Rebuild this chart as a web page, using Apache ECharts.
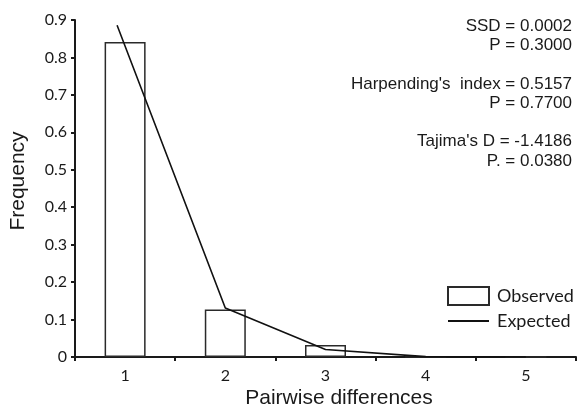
<!DOCTYPE html>
<html>
<head>
<meta charset="utf-8">
<script src="https://cdn.jsdelivr.net/npm/echarts@6/dist/echarts.min.js"></script>
<style>html,body{margin:0;padding:0;background:#fff}#c{width:577px;height:407px}</style>
</head>
<body>
<div id="c"></div>
<script>
// ---- data ----
const categories = ['1', '2', '3', '4', '5'];
const observed = [0.841, 0.127, 0.032, 0, 0];
const expectedX = [0.92, 2, 3, 4, 5];
const expectedY = [0.886, 0.131, 0.02, 0.001, 0];
const yTicks = [0, 0.9, 0.1];
const statLines = [
  'SSD = 0.0002', 'P = 0.3000', '',
  "Harpending's  index = 0.5157", 'P = 0.7700', '',
  "Tajima's D = -1.4186", 'P. = 0.0380'
];
const xTitle = 'Pairwise differences';
const yTitle = 'Frequency';
const legendNames = ['Observed', 'Expected'];

const chart = echarts.init(document.getElementById('c'), null, {renderer: 'canvas'});
const ink = '#1a1a1a';
const numFont = 'Lato';
const option = {
  animation: false,
  backgroundColor: '#fff',
  grid: {left: 75, right: 1, top: 20, bottom: 50, containLabel: false},
  legend: {
    orient: 'vertical', left: 447, top: 286, padding: 0,
    itemWidth: 41, itemHeight: 18, itemGap: 6,
    textStyle: {fontFamily: numFont, fontSize: 18, color: ink, padding: [0, 0, 0, 3]},
    data: [
      {name: legendNames[0], icon: 'rect'},
      {name: legendNames[1], itemStyle: {opacity: 0}}
    ]
  },
  xAxis: [{
    type: 'category', data: categories, boundaryGap: true,
    axisLine: {lineStyle: {color: ink, width: 2}},
    axisTick: {show: true, length: 4, inside: false, lineStyle: {color: ink, width: 2}},
    axisLabel: {fontFamily: numFont, fontSize: 16, color: ink, margin: 11},
    splitLine: {show: false}
  }, {
    type: 'value', min: 0.5, max: 5.5, show: false, splitLine: {show: false}
  }],
  yAxis: {
    type: 'value', min: yTicks[0], max: yTicks[1], interval: yTicks[2],
    axisLine: {show: true, lineStyle: {color: ink, width: 2}},
    axisTick: {show: true, length: 4, lineStyle: {color: ink, width: 2}},
    axisLabel: {fontFamily: numFont, fontSize: 16, color: ink, margin: 8,
      formatter: v => (Math.round(v * 10) / 10).toString()},
    splitLine: {show: false}
  },
  series: [{
    name: legendNames[0], type: 'bar', data: observed, barWidth: 41,
    itemStyle: {color: '#fff', borderColor: '#2a2a2a', borderWidth: 1.5},
    z: 2
  }, {
    name: legendNames[1], type: 'line', xAxisIndex: 1,
    data: expectedX.map((x, i) => [x, expectedY[i]]),
    symbol: 'none', showSymbol: false,
    lineStyle: {color: '#111', width: 1.6},
    itemStyle: {color: '#111'},
    z: 3
  }],
  graphic: [
    {type: 'text', position: [339, 398], style: {text: xTitle, font: '21px "Liberation Sans"', fill: ink, textAlign: 'center', textVerticalAlign: 'middle'}},
    {type: 'text', rotation: Math.PI / 2, position: [18, 181], style: {text: yTitle, font: '21px "Liberation Sans"', fill: ink, textAlign: 'center', textVerticalAlign: 'middle'}},
    {type: 'text', position: [572, 17], style: {text: statLines.join('\n'), font: '17px "Liberation Sans"', fill: ink, textAlign: 'right', textVerticalAlign: 'top', lineHeight: 19.2}}
  ]
};
chart.setOption(option);
</script>
</body>
</html>
